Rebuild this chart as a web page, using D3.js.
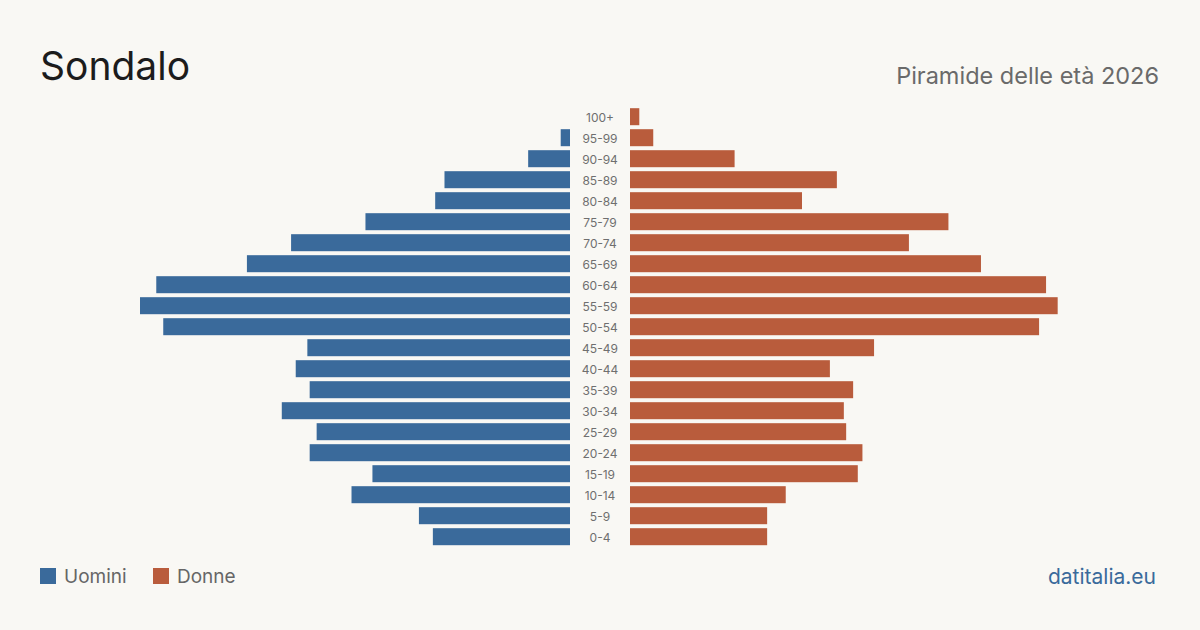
<!DOCTYPE html>
<html>
<head>
<meta charset="utf-8">
<script src="https://cdn.jsdelivr.net/npm/d3@7"></script>
<style>
  html, body { margin: 0; padding: 0; background: #f9f8f4; }
  svg { display: block; font-family: Inter, "Noto Sans", sans-serif; }
</style>
</head>
<body>
<div id="chart"></div>
<script>
// age classes, top to bottom
var ages = ["100+", "95-99", "90-94", "85-89", "80-84", "75-79", "70-74", "65-69", "60-64", "55-59",
  "50-54", "45-49", "40-44", "35-39", "30-34", "25-29", "20-24", "15-19", "10-14", "5-9", "0-4"];
var uomini = [0, 4, 18, 54, 58, 88, 120, 139, 178, 185, 175, 113, 118, 112, 124, 109, 112, 85, 94, 65, 59];
var donne = [4, 10, 45, 89, 74, 137, 120, 151, 179, 184, 176, 105, 86, 96, 92, 93, 100, 98, 67, 59, 59];
var legendLabels = ["Uomini", "Donne"];

var W = 1200, H = 630;
var blue = "#3a6a9b", red = "#b95c3c";

var svg = d3.select("#chart").append("svg")
  .attr("width", W)
  .attr("height", H);

svg.append("rect").attr("width", W).attr("height", H).attr("fill", "#f9f8f4");

var y = d3.scaleBand()
  .domain(ages)
  .range([106.2, 547.2])
  .paddingInner(0.19)
  .paddingOuter(0.095);

var maxV = 185;
var xL = d3.scaleLinear().domain([0, maxV]).range([570, 140]);
var xR = d3.scaleLinear().domain([0, maxV]).range([630, 1060]);

var rows = ages.map(function (a, i) { return { age: a, m: uomini[i], f: donne[i] }; });

// male bars
svg.selectAll(".bar-m")
  .data(rows)
  .enter().append("rect")
  .attr("class", "bar-m")
  .attr("x", d => xL(d.m))
  .attr("y", d => y(d.age))
  .attr("width", d => xL(0) - xL(d.m))
  .attr("height", y.bandwidth())
  .attr("fill", blue);

// female bars
svg.selectAll(".bar-f")
  .data(rows)
  .enter().append("rect")
  .attr("class", "bar-f")
  .attr("x", xR(0))
  .attr("y", d => y(d.age))
  .attr("width", d => xR(d.f) - xR(0))
  .attr("height", y.bandwidth())
  .attr("fill", red);

// age labels in the middle
svg.selectAll(".age")
  .data(ages)
  .enter().append("text")
  .attr("class", "age")
  .attr("x", 600)
  .attr("y", d => y(d) + y.bandwidth() / 2)
  .attr("dy", "0.4em")
  .attr("text-anchor", "middle")
  .attr("font-size", "12px")
  .attr("fill", "#6f6f6f")
  .text(d => d);

// title + subtitle
svg.append("text")
  .attr("x", 40).attr("y", 80)
  .attr("font-size", "39px")
  .attr("fill", "#1c1c1c")
  .text("Sondalo");

svg.append("text")
  .attr("x", 1159).attr("y", 84)
  .attr("text-anchor", "end")
  .attr("font-size", "23.5px")
  .attr("fill", "#6a6a6a")
  .text("Piramide delle età 2026");

// legend
var legend = svg.selectAll(".legend")
  .data(legendLabels)
  .enter().append("g")
  .attr("class", "legend")
  .attr("transform", (d, i) => "translate(" + (40 + i * 113) + ",568)");

legend.append("rect")
  .attr("width", 16)
  .attr("height", 16)
  .attr("fill", (d, i) => i === 0 ? blue : red);

legend.append("text")
  .attr("x", 24)
  .attr("y", 8)
  .attr("dy", "0.38em")
  .attr("font-size", "19px")
  .attr("fill", "#666")
  .text(d => d);

svg.append("text")
  .attr("x", 1156).attr("y", 584)
  .attr("text-anchor", "end")
  .attr("font-size", "21px")
  .attr("fill", "#3a6a9b")
  .text("datitalia.eu");
</script>
</body>
</html>
